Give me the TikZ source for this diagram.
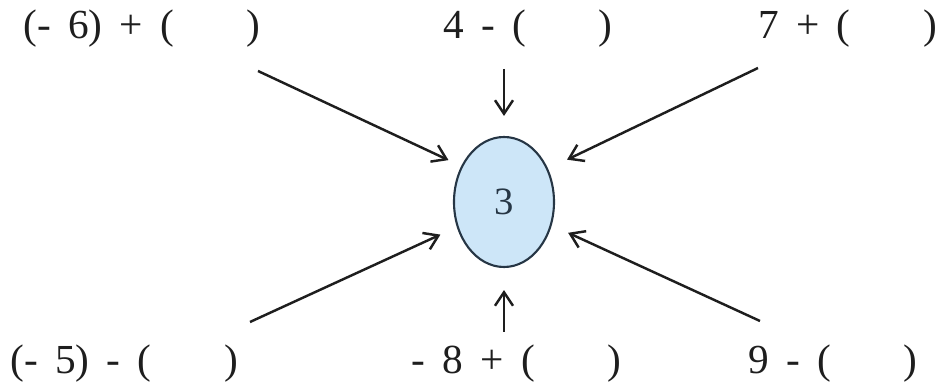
\documentclass[tikz,border=0pt]{standalone}
\usepackage{fontspec}
\setmainfont{Liberation Serif}
\usepackage{tikz}
\usetikzlibrary{arrows.meta, shapes.geometric}
\usepackage{xcolor}
\definecolor{inkgray}{HTML}{1E1E1E}
\definecolor{bubbleblue}{HTML}{CDE6F8}
\definecolor{bubbleedge}{HTML}{263645}
\newcommand{\blankgap}{\hspace{1.45cm}}
\newcommand{\exprfont}{\fontsize{23.5}{28}\selectfont\spaceskip=0.42em\relax}

\begin{document}
\begin{tikzpicture}[
    expr/.style={anchor=base west, inner sep=0pt, text=inkgray,
                 font={\exprfont}},
    answer/.style={ellipse, fill=bubbleblue, draw=bubbleedge, line width=1.2pt,
                   minimum width=2cm, minimum height=2.6cm, inner sep=0pt,
                   text=bubbleedge, font={\fontsize{22}{26}\selectfont}},
    arr/.style={-{Straight Barb[length=2.7mm, width=3.6mm]}, line width=1.4pt,
                color=inkgray}
  ]
    \useasboundingbox (0,0) rectangle (18.72,7.8);

    %% centre
    \node[answer] (ans) at (10.08, 3.76) {3};

    %% top row
    \node[expr] (extl) at (0.46, 7.02) {(- 6) + (\blankgap)};
    \node[expr] (ext) at (8.86, 7.02) {4 - (\blankgap)};
    \node[expr] (extr) at (15.16, 7.02) {7 + (\blankgap)};
    \coordinate (tl) at (5.16, 6.38);
    \coordinate (t) at (10.08, 6.42);
    \coordinate (tr) at (15.16, 6.44);

    %% bottom row
    \node[expr] (exbl) at (0.2, 0.33) {(- 5) - (\blankgap)};
    \node[expr] (exb) at (8.22, 0.33) {- 8 + (\blankgap)};
    \node[expr] (exbr) at (14.96, 0.33) {9 - (\blankgap)};
    \coordinate (bl) at (5.00, 1.36);
    \coordinate (b) at (10.08, 1.16);
    \coordinate (br) at (15.20, 1.38);

    %% arrows
    \draw[arr, shorten >=0.28cm] (tl) -- (ans.140);
    \draw[arr, shorten >=0.40cm] (t) -- (ans.north);
    \draw[arr, shorten >=0.42cm] (tr) -- (ans.37);
    \draw[arr, shorten >=0.36cm] (bl) -- (ans.208);
    \draw[arr, shorten >=0.44cm] (b) -- (ans.south);
    \draw[arr, shorten >=0.36cm] (br) -- (ans.334);
  \end{tikzpicture}
\end{document}
